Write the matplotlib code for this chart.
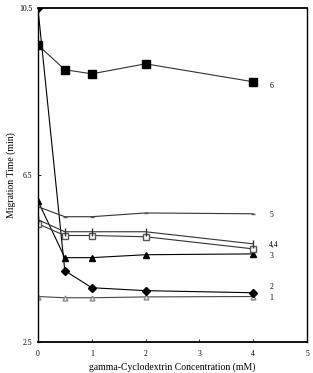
import matplotlib.pyplot as plt

# gamma-cyclodextrin concentration (mM)
conc = [0, 0.5, 1, 2, 4]

# migration times (min)
s1 = [3.59, 3.56, 3.56, 3.58, 3.59]
s2 = [10.5, 4.21, 3.80, 3.73, 3.68]
s3 = [5.88, 4.52, 4.52, 4.59, 4.61]
s4a = [5.33, 5.05, 5.05, 5.02, 4.73]
s4b = [5.43, 5.14, 5.14, 5.14, 4.85]
s5 = [5.74, 5.50, 5.50, 5.59, 5.57]
s6 = [9.61, 9.02, 8.92, 9.16, 8.73]

labels = ['1', '2', '3', '4,4', '5', '6']
label_y = [3.55, 3.82, 4.55, 4.82, 5.55, 8.62]

plt.rcParams['font.family'] = ['Liberation Serif', 'DejaVu Serif']

fig = plt.figure(figsize=(3.13, 3.73), dpi=100)
ax = fig.add_axes([0.121, 0.083, 0.86, 0.896])

lw = 0.8
ax.plot(conc, s1, color='#444444', lw=lw, marker='^', mfc='white', mec='#888888', ms=3.5)
ax.plot(conc, s2, color='black', lw=lw, marker='D', mfc='black', mec='black', ms=4)
ax.plot(conc, s3, color='black', lw=lw, marker='^', mfc='black', mec='black', ms=5)
ax.plot(conc, s4a, color='#333333', lw=lw, marker='s', mfc='white', mec='#555555', ms=5)
ax.plot(conc, s4b, color='#333333', lw=lw, marker='|', mec='#333333', ms=6)
ax.plot(conc, s5, color='#333333', lw=lw, marker='_', mec='#555555', ms=3)
ax.plot(conc, s6, color='#333333', lw=lw, marker='s', mfc='black', mec='black', ms=5.5)

for lab, y in zip(labels, label_y):
    ax.text(4.3, y, lab, fontsize=5.5, va='center', ha='left')

ax.set_xlim(0, 5)
ax.set_ylim(2.5, 10.5)
ax.set_xticks([0, 1, 2, 3, 4, 5])
ax.set_yticks([2.5, 6.5, 10.5])
ax.set_yticklabels(['2.5', '6.5', '10.5'])
ax.tick_params(labelsize=5.5, length=2, width=0.6, direction='in')
ax.tick_params(axis='x', pad=6)
ax.tick_params(axis='y', pad=4)
ax.spines['top'].set_linewidth(1.3)
ax.spines['bottom'].set_linewidth(1.3)
ax.spines['left'].set_linewidth(1.0)
ax.spines['right'].set_linewidth(1.0)

ax.set_xlabel('gamma-Cyclodextrin Concentration (mM)', fontsize=7, labelpad=3)
ax.set_ylabel('Migration Time (min)', fontsize=7, labelpad=2)

fig.savefig('out.png', dpi=100)
